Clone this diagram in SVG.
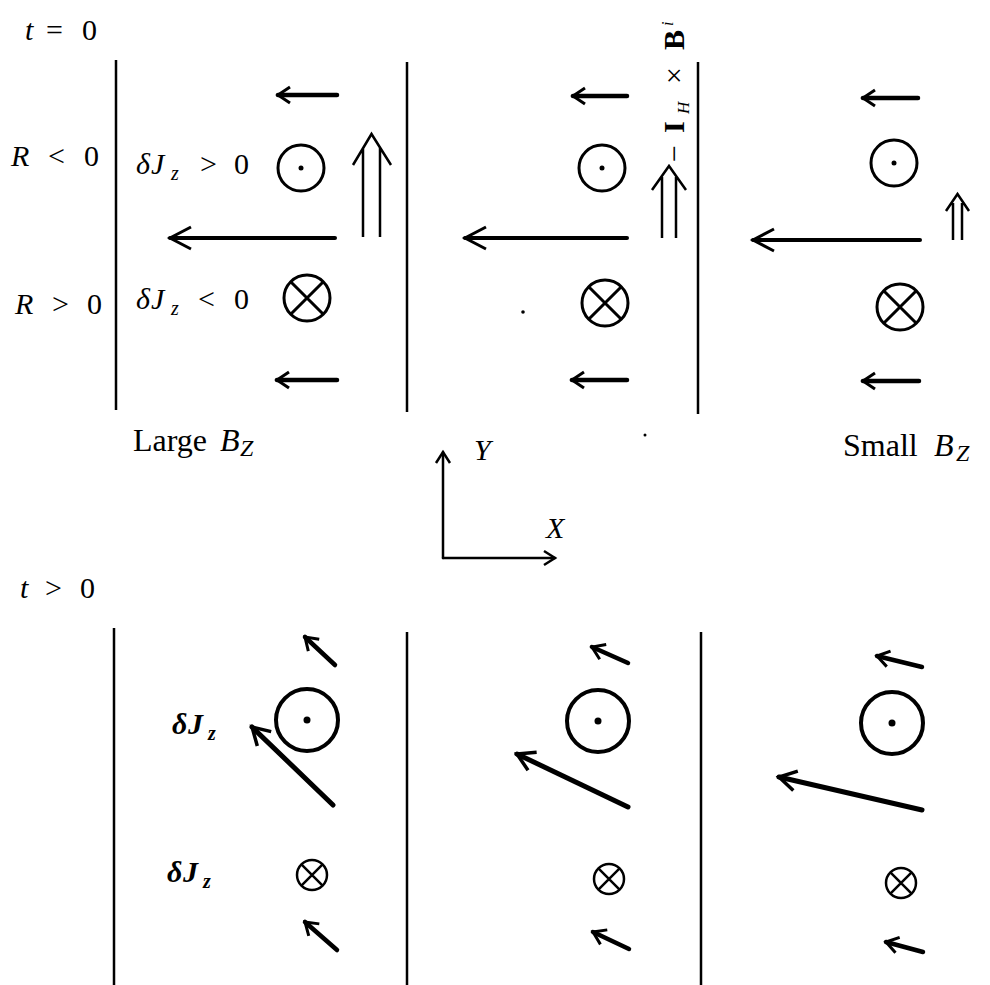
<svg xmlns="http://www.w3.org/2000/svg" width="990" height="985" viewBox="0 0 990 985">
<style>
text{font-family:"Liberation Serif","DejaVu Serif",serif;fill:#000;font-size:30px}
.i{font-style:italic}
.b{font-weight:bold}
.lbl{font-size:32px}
.wall{stroke:#000;stroke-width:2.5;fill:none}
.as{stroke:#000;stroke-width:4.5;stroke-linecap:round;fill:none;marker-end:url(#hs)}
.ab{stroke:#000;stroke-width:4;stroke-linecap:round;fill:none;marker-end:url(#hb)}
.al{stroke:#000;stroke-width:5;stroke-linecap:round;fill:none;marker-end:url(#hl)}
.ax{stroke:#000;stroke-width:2.5;stroke-linecap:round;fill:none;marker-end:url(#hx)}
.dbl{stroke:#000;stroke-width:2.5;fill:none}
.c1{stroke:#000;stroke-width:3;fill:none}
.c2{stroke:#000;stroke-width:4;fill:none}
.c3{stroke:#000;stroke-width:2.5;fill:none}
</style>
<defs>
<marker id="hs" markerUnits="userSpaceOnUse" orient="auto" refX="0" refY="0" markerWidth="40" markerHeight="40" overflow="visible"><path d="M-12,-8 L0,0 L-12,8" stroke="#000" stroke-width="3" fill="none"/></marker>
<marker id="hb" markerUnits="userSpaceOnUse" orient="auto" refX="0" refY="0" markerWidth="40" markerHeight="40" overflow="visible"><path d="M-21,-11 L0,0 L-21,11" stroke="#000" stroke-width="3" fill="none"/></marker>
<marker id="hl" markerUnits="userSpaceOnUse" orient="auto" refX="0" refY="0" markerWidth="40" markerHeight="40" overflow="visible"><path d="M-17,-10 L0,0 L-17,10" stroke="#000" stroke-width="3.5" fill="none"/></marker>
<marker id="hx" markerUnits="userSpaceOnUse" orient="auto" refX="0" refY="0" markerWidth="40" markerHeight="40" overflow="visible"><path d="M-11,-7 L0,0 L-11,7" stroke="#000" stroke-width="2.5" fill="none"/></marker>
</defs>

<g id="labels">
<text x="25" y="40"><tspan class="i">t</tspan><tspan x="46">=</tspan><tspan x="82">0</tspan></text>
<text x="11" y="166"><tspan class="i">R</tspan><tspan x="48">&lt;</tspan><tspan x="84">0</tspan></text>
<text x="15" y="314"><tspan class="i">R</tspan><tspan x="52">&gt;</tspan><tspan x="87">0</tspan></text>
<text x="136" y="174"><tspan class="i">δ</tspan><tspan class="i" x="151">J</tspan><tspan class="i" x="171" dy="6" font-size="20">z</tspan><tspan x="200" dy="-6">&gt;</tspan><tspan x="234">0</tspan></text>
<text x="136" y="309"><tspan class="i">δ</tspan><tspan class="i" x="151">J</tspan><tspan class="i" x="171" dy="6" font-size="20">z</tspan><tspan x="198" dy="-6">&lt;</tspan><tspan x="234">0</tspan></text>
<text class="lbl" x="133" y="451">Large <tspan class="i" x="220">B</tspan><tspan class="i" x="240" dy="5" font-size="24">Z</tspan></text>
<text class="lbl" x="843" y="456">Small <tspan class="i" x="934">B</tspan><tspan class="i" x="956" dy="5" font-size="24">Z</tspan></text>
<text x="20" y="598"><tspan class="i">t</tspan><tspan x="45">&gt;</tspan><tspan x="80">0</tspan></text>
<text class="b" x="172" y="734"><tspan class="i">δ</tspan><tspan class="i" x="188">J</tspan><tspan class="i" x="208" dy="6" font-size="20">z</tspan></text>
<text class="b" x="167" y="882"><tspan class="i">δ</tspan><tspan class="i" x="183">J</tspan><tspan class="i" x="203" dy="6" font-size="20">z</tspan></text>
<text class="i" x="474" y="460">Y</text>
<text class="i" x="546" y="538">X</text>
<g id="label-IxB" transform="translate(684,0) rotate(-90)">
<text font-size="26"><tspan x="-162">−</tspan><tspan class="b" x="-133">I</tspan><tspan class="i" x="-114" dy="5" font-size="17">H</tspan><tspan x="-84" dy="-5">×</tspan><tspan class="b" x="-50">B</tspan><tspan class="i" x="-26" dy="-11" font-size="16">i</tspan></text>
</g>
</g>

<g id="walls">
<line class="wall" x1="116" y1="60" x2="116" y2="410"/>
<line class="wall" x1="407" y1="62" x2="407" y2="412"/>
<line class="wall" x1="698" y1="62" x2="698" y2="414"/>
<line class="wall" x1="114" y1="628" x2="114" y2="985"/>
<line class="wall" x1="407" y1="632" x2="407" y2="985"/>
<line class="wall" x1="701" y1="632" x2="701" y2="985"/>
</g>

<g id="symbols">
<g id="odot-a"><circle class="c1" cx="301" cy="168" r="23"/><circle cx="301" cy="168" r="2.5"/></g>
<g id="otimes-a"><circle class="c1" cx="307" cy="298" r="23"/><path class="c1" d="M290.7,281.7 L323.3,314.3 M323.3,281.7 L290.7,314.3"/></g>
<g id="odot-b"><circle class="c1" cx="602" cy="168" r="23"/><circle cx="602" cy="168" r="2.5"/></g>
<g id="otimes-b"><circle class="c1" cx="605" cy="303" r="23"/><path class="c1" d="M588.7,286.7 L621.3,319.3 M621.3,286.7 L588.7,319.3"/></g>
<g id="odot-c"><circle class="c1" cx="894" cy="163" r="23"/><circle cx="894" cy="163" r="2.5"/></g>
<g id="otimes-c"><circle class="c1" cx="900" cy="307" r="23"/><path class="c1" d="M883.7,290.7 L916.3,323.3 M916.3,290.7 L883.7,323.3"/></g>
<circle cx="523" cy="312" r="1.8"/>
<circle cx="645" cy="435" r="1.5"/>
<g id="odot-d"><circle class="c2" cx="307" cy="720" r="31"/><circle cx="307" cy="720" r="3.5"/></g>
<g id="otimes-d"><circle class="c3" cx="312" cy="875" r="15"/><path class="c3" d="M301.4,864.4 L322.6,885.6 M322.6,864.4 L301.4,885.6"/></g>
<g id="odot-e"><circle class="c2" cx="598" cy="721" r="31"/><circle cx="598" cy="721" r="3.5"/></g>
<g id="otimes-e"><circle class="c3" cx="609" cy="879" r="15"/><path class="c3" d="M598.4,868.4 L619.6,889.6 M619.6,868.4 L598.4,889.6"/></g>
<g id="odot-f"><circle class="c2" cx="892" cy="723" r="31"/><circle cx="892" cy="723" r="3.5"/></g>
<g id="otimes-f"><circle class="c3" cx="901" cy="883" r="15"/><path class="c3" d="M890.4,872.4 L911.6,893.6 M911.6,872.4 L890.4,893.6"/></g>
</g>

<g id="connectors">
<line class="as" x1="337" y1="95" x2="278" y2="95"/>
<line class="ab" x1="335" y1="238" x2="170" y2="238"/>
<line class="as" x1="337" y1="380" x2="277" y2="380"/>
<path class="dbl" d="M363,237 V148 M380,237 V148 M353,165 L371.5,134 L391,165"/>
<line class="as" x1="627" y1="96" x2="573" y2="96"/>
<line class="ab" x1="627" y1="238" x2="465" y2="238"/>
<line class="as" x1="627" y1="380" x2="572" y2="380"/>
<path class="dbl" d="M662,238 V177 M676,238 V177 M652,190 L669,166 L686,190"/>
<line class="as" x1="918" y1="98" x2="863" y2="98"/>
<line class="ab" x1="920" y1="240" x2="753" y2="240"/>
<line class="as" x1="919" y1="381" x2="863" y2="381"/>
<path class="dbl" d="M953,240 V203 M962,240 V203 M946,211 L957.5,194 L969,211"/>
<line class="ax" x1="443" y1="558" x2="443" y2="452"/>
<line class="ax" x1="443" y1="558" x2="555" y2="558"/>
<line class="as" x1="335" y1="665" x2="305" y2="637"/>
<line class="al" x1="333" y1="805" x2="252" y2="727"/>
<line class="as" x1="337" y1="950" x2="305" y2="922"/>
<line class="as" x1="628" y1="663" x2="592" y2="647"/>
<line class="al" x1="628" y1="807" x2="517" y2="754"/>
<line class="as" x1="629" y1="949" x2="593" y2="932"/>
<line class="as" x1="922" y1="667" x2="877" y2="656"/>
<line class="al" x1="922" y1="810" x2="779" y2="777"/>
<line class="as" x1="923" y1="952" x2="886" y2="942"/>
</g>
</svg>
